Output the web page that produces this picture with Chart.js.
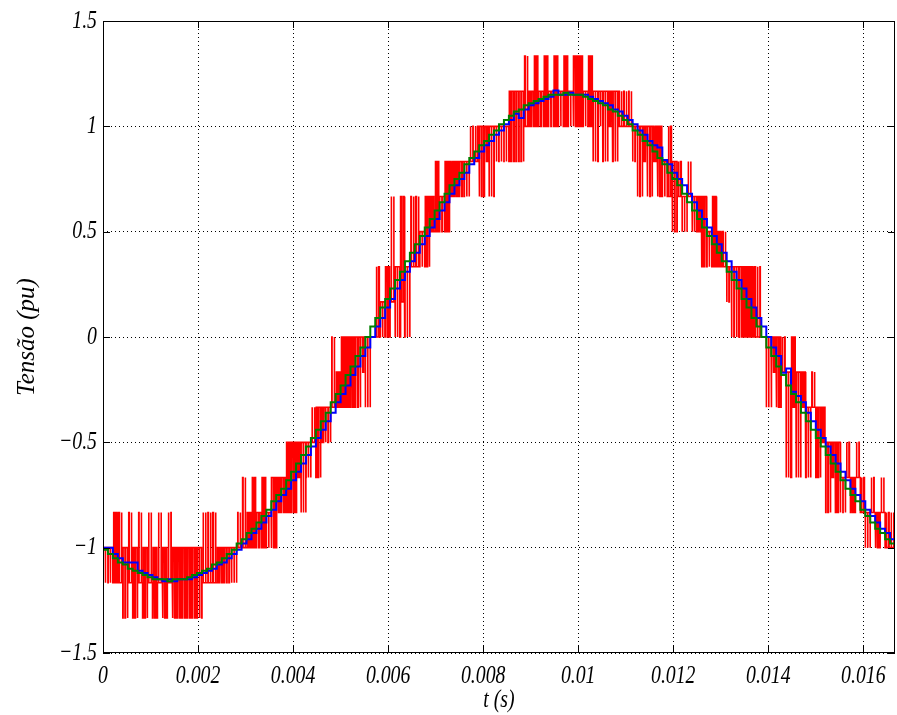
<!DOCTYPE html>
<html>
<head>
<meta charset="utf-8">
<script src="https://cdn.jsdelivr.net/npm/chart.js@4/dist/chart.umd.min.js"></script>
<style>
  html, body { margin: 0; padding: 0; background: #fff; }
  #wrap { position: relative; width: 897px; height: 715px; }
</style>
</head>
<body>
<div id="wrap"><canvas id="c" width="897" height="715"></canvas></div>
<script>
// One 60 Hz cycle split into 160 control periods
const samplePeriod = 1 / 9600;
const tEnd = 1 / 60;

const xTicks = [0, 0.002, 0.004, 0.006, 0.008, 0.01, 0.012, 0.014, 0.016];
const xTickLabels = ['0', '0.002', '0.004', '0.006', '0.008', '0.01', '0.012', '0.014', '0.016'];
const yTicks = [-1.5, -1, -0.5, 0, 0.5, 1, 1.5];
const yTickLabels = ['\u22121.5', '\u22121', '\u22120.5', '0', '0.5', '1', '1.5'];

// Reference voltage (pu), held over each control period
const refVoltage = [
  -1.01, -1.03, -1.05, -1.07, -1.08, -1.10, -1.11, -1.12, -1.13, -1.14,
  -1.15, -1.15, -1.15, -1.16, -1.15, -1.15, -1.15, -1.14, -1.13, -1.12,
  -1.11, -1.10, -1.08, -1.07, -1.05, -1.03, -1.01, -0.98, -0.96, -0.93,
  -0.91, -0.88, -0.85, -0.82, -0.78, -0.75, -0.72, -0.68, -0.64, -0.60,
  -0.56, -0.52, -0.48, -0.44, -0.40, -0.36, -0.31, -0.27, -0.23, -0.18,
  -0.14, -0.09, -0.05, 0.00, 0.05, 0.09, 0.14, 0.18, 0.23, 0.27,
  0.31, 0.36, 0.40, 0.44, 0.48, 0.52, 0.56, 0.60, 0.64, 0.68,
  0.72, 0.75, 0.78, 0.82, 0.85, 0.88, 0.91, 0.93, 0.96, 0.98,
  1.01, 1.03, 1.05, 1.07, 1.08, 1.10, 1.11, 1.12, 1.13, 1.14,
  1.15, 1.15, 1.15, 1.16, 1.15, 1.15, 1.15, 1.14, 1.13, 1.12,
  1.11, 1.10, 1.08, 1.07, 1.05, 1.03, 1.01, 0.98, 0.96, 0.93,
  0.91, 0.88, 0.85, 0.82, 0.78, 0.75, 0.72, 0.68, 0.64, 0.60,
  0.56, 0.52, 0.48, 0.44, 0.40, 0.36, 0.31, 0.27, 0.23, 0.18,
  0.14, 0.09, 0.05, 0.00, -0.05, -0.09, -0.14, -0.18, -0.23, -0.27,
  -0.31, -0.36, -0.40, -0.44, -0.48, -0.52, -0.56, -0.60, -0.64, -0.68,
  -0.72, -0.75, -0.78, -0.82, -0.85, -0.88, -0.91, -0.93, -0.96, -0.98
];

// Measured (averaged) output voltage (pu), one period behind the reference
const measVoltage = [
  -1.00, -1.00, -1.03, -1.05, -1.07, -1.07, -1.07, -1.11, -1.12, -1.13,
  -1.14, -1.15, -1.16, -1.15, -1.16, -1.15, -1.15, -1.15, -1.14, -1.13,
  -1.12, -1.11, -1.10, -1.08, -1.07, -1.05, -1.03, -1.01, -0.98, -0.96,
  -0.93, -0.91, -0.88, -0.85, -0.82, -0.78, -0.75, -0.72, -0.68, -0.64,
  -0.60, -0.56, -0.52, -0.48, -0.44, -0.40, -0.36, -0.31, -0.27, -0.23,
  -0.18, -0.14, -0.09, -0.05, 0.00, 0.05, 0.09, 0.14, 0.18, 0.23,
  0.27, 0.31, 0.36, 0.40, 0.44, 0.48, 0.52, 0.56, 0.60, 0.64,
  0.68, 0.72, 0.75, 0.78, 0.82, 0.85, 0.88, 0.91, 0.93, 0.96,
  0.98, 1.01, 1.03, 1.06, 1.04, 1.08, 1.10, 1.11, 1.12, 1.13,
  1.14, 1.17, 1.15, 1.15, 1.16, 1.15, 1.15, 1.15, 1.14, 1.13,
  1.12, 1.11, 1.10, 1.08, 1.07, 1.05, 1.03, 1.01, 0.98, 0.96,
  0.93, 0.91, 0.90, 0.84, 0.82, 0.78, 0.75, 0.72, 0.68, 0.64,
  0.60, 0.56, 0.52, 0.48, 0.44, 0.40, 0.36, 0.31, 0.27, 0.23,
  0.18, 0.14, 0.09, 0.05, 0.00, -0.05, -0.09, -0.17, -0.15, -0.26,
  -0.28, -0.31, -0.36, -0.40, -0.44, -0.48, -0.52, -0.56, -0.60, -0.64,
  -0.68, -0.72, -0.75, -0.78, -0.82, -0.85, -0.88, -0.91, -0.93, -0.96
];

// Multilevel converter output: voltage step per level (pu),
// level held in each period, level of the pulses, and total pulse width (fraction of period)
const levelStep = 1 / 6;
const pwmBaseLevel = [
  -7, -7, -7, -7, -8, -7, -8, -7, -8, -7,
  -8, -7, -8, -7, -8, -8, -8, -8, -8, -8,
  -7, -7, -7, -7, -7, -7, -7, -6, -6, -6,
  -6, -6, -6, -6, -6, -5, -5, -5, -5, -4,
  -5, -4, -3, -4, -3, -3, -2, -2, -2, -2,
  -2, -2, -1, -2, 0, 0, 0, 0, 1, 0,
  1, 0, 2, 2, 2, 2, 3, 3, 3, 3,
  4, 4, 4, 4, 5, 5, 4, 5, 4, 5,
  5, 5, 5, 5, 5, 6, 6, 6, 6, 6,
  6, 6, 6, 6, 6, 6, 6, 6, 6, 5,
  6, 5, 6, 5, 6, 6, 6, 5, 4, 5,
  4, 5, 4, 4, 4, 3, 4, 3, 4, 3,
  3, 2, 2, 2, 2, 2, 1, 0, 0, 0,
  0, 0, 0, 0, -2, -1, -2, -1, -4, -2,
  -4, -2, -4, -2, -4, -3, -5, -4, -5, -5,
  -4, -5, -4, -5, -6, -5, -6, -5, -6, -6
];
const pwmPulseLevel = [
  -6, -6, -5, -5, -6, -5, -6, -5, -6, -5,
  -6, -5, -6, -5, -6, -6, -6, -6, -6, -6,
  -5, -5, -5, -6, -6, -6, -6, -5, -4, -5,
  -4, -5, -4, -5, -4, -4, -4, -3, -3, -3,
  -3, -3, -2, -2, -2, -2, 0, -1, 0, 0,
  0, 0, 0, 0, 0, 2, 1, 2, 4, 2,
  4, 2, 4, 4, 3, 4, 4, 5, 4, 5,
  5, 5, 5, 5, 6, 6, 6, 6, 6, 6,
  6, 6, 7, 7, 7, 8, 7, 8, 7, 8,
  7, 8, 7, 8, 7, 8, 8, 7, 8, 7,
  7, 7, 7, 7, 7, 7, 7, 6, 6, 6,
  6, 6, 6, 5, 6, 5, 5, 4, 5, 4,
  4, 4, 3, 4, 3, 3, 2, 2, 2, 2,
  2, 2, 2, 0, 0, 0, 0, 0, -1, 0,
  -1, -1, -2, -1, -2, -2, -3, -3, -3, -4,
  -3, -4, -3, -4, -5, -4, -5, -4, -5, -5
];
const pwmPulseWidth = [
  0.9, 0.8, 0.35, 0.3, 0.75, 0.2, 0.65, 0.15, 0.6, 0.1,
  0.55, 0.1, 0.55, 0.1, 0.55, 0.55, 0.6, 0.6, 0.65, 0.7,
  0.15, 0.2, 0.25, 0.55, 0.65, 0.75, 0.9, 0.1, 0.2, 0.45,
  0.3, 0.7, 0.45, 0.9, 0.6, 0.5, 0.65, 0.45, 0.55, 0.4,
  0.8, 0.85, 0.1, 0.65, 0.6, 0.8, 0.1, 0.4, 0.3, 0.45,
  0.55, 0.7, 0.7, 0.9, 0, 0.3, 0.8, 0.55, 0.15, 0.8,
  0.3, 0.9, 0.2, 0.3, 0.9, 0.55, 0.35, 0.3, 0.85, 0.55,
  0.3, 0.5, 0.7, 0.9, 0.1, 0.3, 0.7, 0.6, 0.85, 0.85,
  0.95, 0.9, 0.65, 0.7, 0.75, 0.3, 0.6, 0.35, 0.75, 0.4,
  0.85, 0.45, 0.9, 0.45, 0.9, 0.45, 0.45, 0.85, 0.4, 0.85,
  0.7, 0.8, 0.5, 0.75, 0.3, 0.2, 0.1, 0.85, 0.8, 0.6,
  0.7, 0.3, 0.55, 0.9, 0.35, 0.75, 0.3, 0.95, 0.1, 0.7,
  0.5, 0.6, 0.85, 0.4, 0.4, 0.2, 0.8, 0.8, 0.7, 0.55,
  0.45, 0.3, 0.15, 0, 0.85, 0.5, 0.6, 0.2, 0.8, 0.35,
  0.7, 0.5, 0.8, 0.2, 0.6, 0.4, 0.75, 0.6, 0.65, 0.9,
  0.2, 0.5, 0.1, 0.3, 0.9, 0.15, 0.5, 0.1, 0.25, 0.15
];

// Zero-order-hold points for a per-period series
function heldPoints(values) {
  const pts = values.map((v, k) => ({ x: k * samplePeriod, y: v }));
  pts.push({ x: values.length * samplePeriod, y: values[values.length - 1] });
  return pts;
}

// Each control period is split into two carrier half-periods,
// each carrying half of the pulse width, centred in its half
function pwmPoints() {
  const pts = [];
  const half = samplePeriod / 2;
  for (let k = 0; k < pwmBaseLevel.length; k++) {
    const base = pwmBaseLevel[k] * levelStep;
    const pulse = pwmPulseLevel[k] * levelStep;
    const w = pwmPulseWidth[k];
    for (let h = 0; h < 2; h++) {
      const t0 = k * samplePeriod + h * half;
      pts.push({ x: t0, y: base });
      if (w > 0 && pulse !== base) {
        const a = t0 + (1 - w) / 2 * half;
        const b = t0 + (1 + w) / 2 * half;
        pts.push({ x: a, y: base }, { x: a, y: pulse }, { x: b, y: pulse }, { x: b, y: base });
      }
      pts.push({ x: t0 + half, y: base });
    }
  }
  return pts;
}

// Tall, narrow italic serif lettering for the numbers and the time label
const labelFont = 'italic 26px "Liberation Serif", "Times New Roman", serif';
const titleFont = 'italic 25px "Liberation Serif", "Times New Roman", serif';
const textSqueeze = 0.76;

function narrowText(ctx, text, x, y, align) {
  ctx.save();
  ctx.translate(x, y);
  ctx.scale(textSqueeze, 1);
  ctx.textAlign = align;
  ctx.fillText(text, 0, 0);
  ctx.restore();
}

// Box, inward ticks on all four sides, tick labels and axis titles
const axesBox = {
  id: 'axesBox',
  afterDraw(chart) {
    const { ctx, chartArea: a, scales: { x, y } } = chart;
    const tick = 7;
    ctx.save();
    ctx.strokeStyle = '#000';
    ctx.lineWidth = 1;
    ctx.strokeRect(a.left + 0.5, a.top + 0.5, a.right - a.left - 1, a.bottom - a.top - 1);
    ctx.beginPath();
    xTicks.forEach(v => {
      const px = Math.round(x.getPixelForValue(v)) + 0.5;
      ctx.moveTo(px, a.bottom); ctx.lineTo(px, a.bottom - tick);
      ctx.moveTo(px, a.top); ctx.lineTo(px, a.top + tick);
    });
    yTicks.forEach(v => {
      const py = Math.round(y.getPixelForValue(v)) + 0.5;
      ctx.moveTo(a.left, py); ctx.lineTo(a.left + tick, py);
      ctx.moveTo(a.right, py); ctx.lineTo(a.right - tick, py);
    });
    ctx.stroke();

    ctx.fillStyle = '#000';
    ctx.font = labelFont;
    ctx.textBaseline = 'middle';
    xTicks.forEach((v, i) => {
      narrowText(ctx, xTickLabels[i], x.getPixelForValue(v), a.bottom + 23, 'center');
    });
    yTicks.forEach((v, i) => {
      narrowText(ctx, yTickLabels[i], a.left - 6, y.getPixelForValue(v), 'right');
    });

    narrowText(ctx, 't (s)', (a.left + a.right) / 2, a.bottom + 47, 'center');

    ctx.font = titleFont;
    ctx.translate(27, (a.top + a.bottom) / 2);
    ctx.rotate(-Math.PI / 2);
    ctx.textAlign = 'center';
    ctx.fillText('Tensão (pu)', 0, 0);
    ctx.restore();
  }
};

const gridStyle = { color: '#000', lineWidth: 1, drawTicks: false };
const borderStyle = { display: false, dash: [1, 3] };

new Chart(document.getElementById('c'), {
  type: 'line',
  data: {
    datasets: [
      { data: pwmPoints(), borderColor: '#ff0000', borderWidth: 1.6, pointRadius: 0, order: 3 },
      { data: heldPoints(measVoltage), borderColor: '#0000ff', borderWidth: 2, stepped: 'before', pointRadius: 0, order: 2 },
      { data: heldPoints(refVoltage), borderColor: '#008000', borderWidth: 2, stepped: 'before', pointRadius: 0, order: 1 }
    ]
  },
  options: {
    responsive: false,
    animation: false,
    parsing: false,
    events: [],
    layout: { padding: { left: 0, right: 2, top: 21, bottom: 0 } },
    plugins: { legend: { display: false }, tooltip: { enabled: false } },
    scales: {
      x: {
        type: 'linear', min: 0, max: tEnd,
        afterFit(s) { s.height = 62; },
        afterBuildTicks(s) { s.ticks = xTicks.map(v => ({ value: v })); },
        ticks: { display: false },
        grid: gridStyle,
        border: borderStyle
      },
      y: {
        type: 'linear', min: -1.5, max: 1.5,
        afterFit(s) { s.width = 103; },
        afterBuildTicks(s) { s.ticks = yTicks.map(v => ({ value: v })); },
        ticks: { display: false },
        grid: gridStyle,
        border: borderStyle
      }
    }
  },
  plugins: [axesBox]
});
</script>
</body>
</html>
